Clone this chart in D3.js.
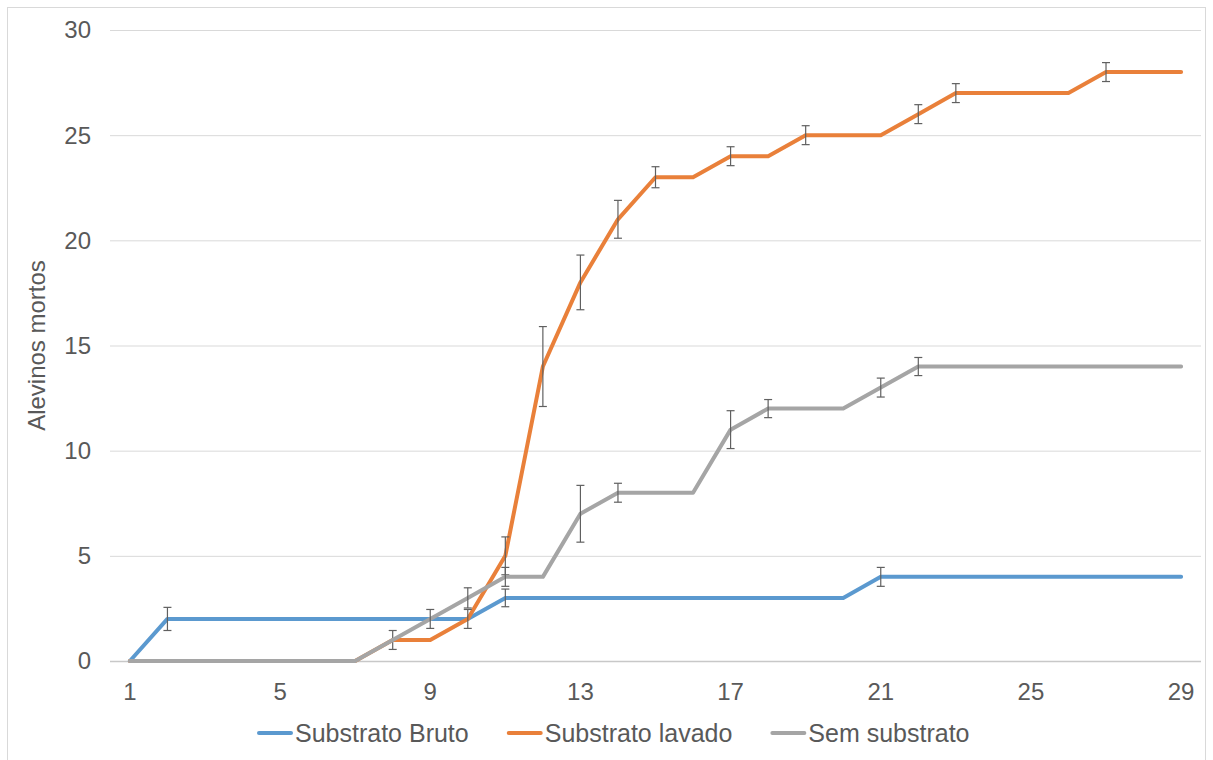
<!DOCTYPE html>
<html>
<head>
<meta charset="utf-8">
<script src="https://cdn.jsdelivr.net/npm/d3@7"></script>
<style>
  body { margin: 0; background: #fff; }
  text { font-family: "Liberation Sans", Arial, sans-serif; fill: #595959; }
</style>
</head>
<body>
<svg id="chart" width="1213" height="760"></svg>
<script>
// days 1..29
var days = d3.range(1, 30);
var xTicks = [1, 5, 9, 13, 17, 21, 25, 29];
var yTicks = [0, 5, 10, 15, 20, 25, 30];

var bruto = [0, 2, 2, 2, 2, 2, 2, 2, 2, 2, 3, 3, 3, 3, 3, 3, 3, 3, 3, 3, 4, 4, 4, 4, 4, 4, 4, 4, 4];
var lavado = [0, 0, 0, 0, 0, 0, 0, 1, 1, 2, 5, 14, 18, 21, 23, 23, 24, 24, 25, 25, 25, 26, 27, 27, 27, 27, 28, 28, 28];
var semSub = [0, 0, 0, 0, 0, 0, 0, 1, 2, 3, 4, 4, 7, 8, 8, 8, 11, 12, 12, 12, 13, 14, 14, 14, 14, 14, 14, 14, 14];

// error bars (day, +/-)
var brutoErr = [[2, 0.55], [11, 0.42], [21, 0.45]];
var lavadoErr = [[8, 0.45], [10, 0.45], [11, 0.9], [12, 1.9], [13, 1.3], [14, 0.9], [15, 0.5], [17, 0.45], [19, 0.45], [22, 0.45], [23, 0.45], [27, 0.45]];
var semErr = [[9, 0.45], [10, 0.48], [11, 0.45], [13, 1.35], [14, 0.45], [17, 0.9], [18, 0.43], [21, 0.45], [22, 0.43]];

var series = [
  { name: "Substrato Bruto", values: bruto, err: brutoErr, color: "#5b99cf" },
  { name: "Substrato lavado", values: lavado, err: lavadoErr, color: "#e9803a" },
  { name: "Sem substrato", values: semSub, err: semErr, color: "#a5a5a5" }
];

var svg = d3.select("#chart");

// chart border
svg.append("rect")
  .attr("x", 7.5).attr("y", 7.5)
  .attr("width", 1198).attr("height", 760)
  .attr("fill", "none").attr("stroke", "#d9d9d9");

var x = d3.scaleLinear().domain([0.47, 29.53]).range([110, 1201]);
var y = d3.scaleLinear().domain([0, 30]).range([661, 30]);

// gridlines
svg.append("g").selectAll("line")
  .data(yTicks)
  .enter().append("line")
  .attr("x1", x.range()[0]).attr("x2", x.range()[1])
  .attr("y1", function(d) { return y(d) + 0.5; })
  .attr("y2", function(d) { return y(d) + 0.5; })
  .attr("stroke", function(d) { return d === 0 ? "#c8c8c8" : "#d9d9d9"; })
  .attr("stroke-width", function(d) { return d === 0 ? 1.5 : 1; });

// y tick labels
svg.append("g").selectAll("text")
  .data(yTicks)
  .enter().append("text")
  .attr("x", 91)
  .attr("y", function(d) { return y(d); })
  .attr("dy", "0.35em")
  .attr("text-anchor", "end")
  .style("font-size", "24px")
  .text(function(d) { return d; });

// x tick labels
svg.append("g").selectAll("text")
  .data(xTicks)
  .enter().append("text")
  .attr("x", function(d) { return x(d); })
  .attr("y", 692)
  .attr("dy", "0.35em")
  .attr("text-anchor", "middle")
  .style("font-size", "24px")
  .text(function(d) { return d; });

// y axis title
svg.append("text")
  .attr("transform", "translate(37," + ((y(0) + y(30)) / 2) + ") rotate(-90)")
  .attr("dy", "0.35em")
  .attr("text-anchor", "middle")
  .style("font-size", "24px")
  .text("Alevinos mortos");

var line = d3.line()
  .x(function(d, i) { return x(days[i]); })
  .y(function(d) { return y(d); });

series.forEach(function(s) {
  var g = svg.append("g");
  g.append("path")
    .datum(s.values)
    .attr("d", line)
    .attr("fill", "none")
    .attr("stroke", s.color)
    .attr("stroke-width", 4)
    .attr("stroke-linejoin", "round")
    .attr("stroke-linecap", "round");

  var eb = g.selectAll(".err")
    .data(s.err)
    .enter().append("g")
    .attr("class", "err");
  eb.append("line")
    .attr("x1", function(d) { return x(d[0]); })
    .attr("x2", function(d) { return x(d[0]); })
    .attr("y1", function(d) { return y(s.values[d[0] - 1] + d[1]); })
    .attr("y2", function(d) { return y(s.values[d[0] - 1] - d[1]); });
  eb.append("line")
    .attr("x1", function(d) { return x(d[0]) - 4; })
    .attr("x2", function(d) { return x(d[0]) + 4; })
    .attr("y1", function(d) { return y(s.values[d[0] - 1] + d[1]); })
    .attr("y2", function(d) { return y(s.values[d[0] - 1] + d[1]); });
  eb.append("line")
    .attr("x1", function(d) { return x(d[0]) - 4; })
    .attr("x2", function(d) { return x(d[0]) + 4; })
    .attr("y1", function(d) { return y(s.values[d[0] - 1] - d[1]); })
    .attr("y2", function(d) { return y(s.values[d[0] - 1] - d[1]); });
  eb.selectAll("line")
    .attr("stroke", "#606060")
    .attr("stroke-width", 1.2);
});

// legend
var legend = svg.append("g");
var lx = 259;
series.forEach(function(s) {
  legend.append("line")
    .attr("x1", lx).attr("x2", lx + 32)
    .attr("y1", 733).attr("y2", 733)
    .attr("stroke", s.color)
    .attr("stroke-width", 4)
    .attr("stroke-linecap", "round");
  var t = legend.append("text")
    .attr("x", lx + 36)
    .attr("y", 733)
    .attr("dy", "0.35em")
    .style("font-size", "25px")
    .text(s.name);
  lx += 36 + t.node().getComputedTextLength() + 40;
});
</script>
</body>
</html>
